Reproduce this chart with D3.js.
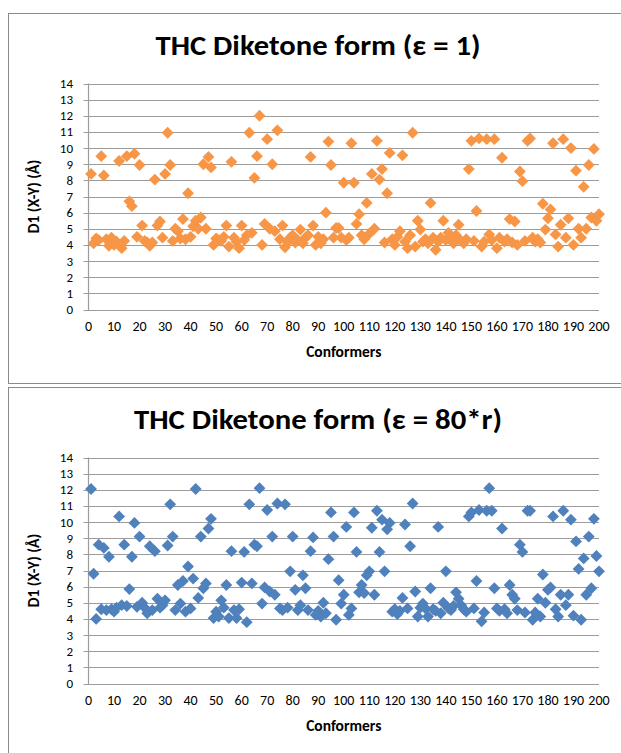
<!DOCTYPE html>
<html>
<head>
<meta charset="utf-8">
<script src="https://cdn.jsdelivr.net/npm/d3@7"></script>
<style>
  html, body { margin: 0; padding: 0; background: #fff; }
  svg { display: block; }
  text { font-family: Carlito, Calibri, Lato, "Open Sans", sans-serif; fill: #000; }
</style>
</head>
<body>
<svg id="chart" width="621" height="753"></svg>
<script>
// Conformer index 1..200 for both runs
const conformers = d3.range(1, 201);

// D1 (X-Y) distance in Å per conformer, dielectric constant ε = 1
const d1Eps1 = [
  8.4, 4.1, 4.4, 4.3, 9.5, 8.3, 4.35, 3.95, 4.45, 4.0,
  4.2, 9.2, 3.8, 4.25, 9.5, 6.7, 6.4, 9.65, 4.5, 8.95,
  5.2, 4.25, 4.15, 3.95, 4.15, 8.05, 5.2, 5.45, 4.45, 8.4,
  10.95, 8.95, 4.25, 5.0, 4.85, 4.4, 5.6, 4.35, 7.2, 4.5,
  5.15, 5.5, 5.0, 5.7, 9.0, 5.0, 9.45, 8.8, 4.0, 4.4,
  4.3, 4.25, 4.5, 5.2, 3.9, 9.15, 4.45, 4.2, 3.8, 5.2,
  4.3, 4.6, 10.95, 4.75, 8.15, 9.5, 12.0, 4.0, 5.3, 10.55,
  5.0, 9.0, 4.85, 11.1, 4.35, 5.2, 3.85, 4.2, 4.45, 4.6,
  4.15, 4.3, 4.95, 4.1, 4.45, 4.6, 9.45, 5.2, 4.0, 4.5,
  4.1, 4.35, 6.0, 10.4, 8.95, 4.45, 5.05, 5.05, 4.45, 7.85,
  4.3, 4.45, 10.3, 7.85, 5.3, 5.9, 4.6, 4.35, 6.6, 4.7,
  8.4, 5.0, 10.45, 8.05, 8.7, 4.15, 7.2, 9.7, 4.35, 4.0,
  4.5, 4.85, 9.55, 4.2, 3.8, 4.6, 10.95, 3.9, 5.5, 4.95,
  4.2, 4.35, 4.1, 6.6, 4.45, 3.7, 4.2, 4.45, 5.5, 4.3,
  4.75, 4.35, 4.1, 4.6, 5.25, 4.25, 4.1, 4.35, 8.7, 10.45,
  4.25, 6.1, 10.6, 3.9, 4.2, 10.55, 4.65, 4.3, 10.55, 3.8,
  4.45, 9.4, 4.2, 4.35, 5.6, 4.15, 5.45, 4.0, 8.55, 7.95,
  4.25, 10.45, 10.6, 4.45, 4.2, 4.35, 4.15, 6.55, 4.95, 5.65,
  6.2, 10.3, 4.65, 3.9, 5.25, 10.55, 4.45, 5.65, 10.0, 4.0,
  8.6, 5.0, 4.45, 7.6, 5.0, 8.95, 5.7, 9.95, 5.5, 5.9
];

// D1 (X-Y) distance in Å per conformer, distance-dependent dielectric ε = 80*r
const d1Eps80r = [
  12.05, 6.8, 4.0, 8.6, 4.6, 8.4, 4.55, 7.85, 4.6, 4.45,
  4.7, 10.35, 4.85, 8.6, 4.8, 5.85, 7.85, 9.95, 4.75, 9.1,
  5.0, 4.7, 4.35, 8.5, 4.55, 8.2, 5.25, 4.7, 4.85, 5.15,
  8.55, 11.1, 9.1, 4.55, 6.1, 4.95, 6.35, 4.45, 7.25, 4.65,
  6.5, 12.05, 5.3, 9.1, 5.9, 6.2, 9.6, 10.2, 4.05, 4.45,
  4.15, 5.15, 4.7, 6.1, 4.05, 8.2, 4.55, 4.05, 4.6, 6.25,
  8.15, 3.8, 11.1, 6.2, 8.6, 8.5, 12.1, 4.95, 5.95, 10.75,
  5.7, 9.1, 5.5, 11.15, 4.65, 4.55, 11.1, 4.7, 6.95, 9.1,
  5.8, 4.55, 4.85, 6.7, 5.9, 4.55, 8.2, 9.05, 4.25, 4.5,
  4.15, 5.0, 4.35, 7.7, 10.6, 9.1, 3.95, 6.4, 4.95, 5.5,
  9.7, 4.25, 4.65, 10.6, 8.15, 5.65, 6.1, 5.6, 6.7, 6.95,
  9.65, 5.5, 10.7, 8.15, 10.15, 6.95, 9.55, 9.95, 4.45, 4.6,
  4.3, 4.5, 5.3, 9.85, 4.65, 8.5, 11.15, 5.7, 4.15, 4.7,
  4.95, 4.65, 4.15, 5.9, 4.6, 4.5, 9.7, 4.35, 5.0, 6.95,
  4.65, 4.55, 4.8, 5.65, 5.25, 4.85, 4.6, 4.45, 10.35, 10.6,
  4.65, 6.35, 10.75, 3.85, 4.4, 10.7, 12.1, 10.7, 5.9, 4.65,
  4.5, 9.6, 4.6, 4.35, 6.1, 5.5, 5.25, 4.55, 8.6, 8.15,
  4.4, 10.7, 10.7, 3.95, 4.4, 5.25, 4.15, 6.75, 5.0, 5.8,
  5.95, 10.35, 4.6, 4.15, 5.5, 10.7, 4.85, 5.5, 10.15, 4.2,
  8.8, 7.1, 3.95, 7.75, 5.5, 9.1, 5.9, 10.2, 7.9, 6.95
];

// Axis tick values
const xTicks = d3.range(0, 201, 10);
const yTicks = d3.range(0, 15, 1);

const svg = d3.select("#chart");

function drawPanel(top, title, titleWidth, values, color) {
  const g = svg.append("g").attr("transform", `translate(0,${top})`);

  // chart area frame
  g.append("rect")
    .attr("x", 8.5).attr("y", 0.5)
    .attr("width", 630).attr("height", 370)
    .attr("fill", "#fff")
    .attr("stroke", "#8a8a8a").attr("stroke-width", 1);

  const x = d3.scaleLinear().domain([0, 200]).range([88.5, 599]);
  const y = d3.scaleLinear().domain([0, 14]).range([296.5, 70.5]);

  // title
  g.append("text")
    .attr("x", 318).attr("y", 42)
    .attr("text-anchor", "middle")
    .attr("font-size", 29).attr("font-weight", "bold")
    .attr("textLength", titleWidth).attr("lengthAdjust", "spacingAndGlyphs")
    .text(title);

  // horizontal gridlines with short ticks to the left of the axis
  g.append("g").selectAll("line").data(yTicks).join("line")
    .attr("x1", x(0) - 5).attr("x2", x(200))
    .attr("y1", d => Math.round(y(d)) + 0.5).attr("y2", d => Math.round(y(d)) + 0.5)
    .attr("stroke", "#9c9c9c").attr("stroke-width", 1.2);

  // vertical axis line
  g.append("line")
    .attr("x1", x(0)).attr("x2", x(0))
    .attr("y1", y(14)).attr("y2", y(0) + 0.5)
    .attr("stroke", "#9c9c9c").attr("stroke-width", 1.2);

  // y tick labels
  g.append("g").selectAll("text").data(yTicks).join("text")
    .attr("x", 73).attr("y", d => y(d))
    .attr("dy", "0.35em")
    .attr("text-anchor", "end")
    .attr("font-size", 13)
    .text(d => d);

  // x tick labels
  g.append("g").selectAll("text").data(xTicks).join("text")
    .attr("x", d => x(d)).attr("y", y(0) + 17)
    .attr("dy", "0.35em")
    .attr("text-anchor", "middle")
    .attr("font-size", 14)
    .text(d => d);

  // axis titles
  g.append("text")
    .attr("x", x(100)).attr("y", 339)
    .attr("dy", "0.35em")
    .attr("text-anchor", "middle")
    .attr("font-size", 15.5).attr("font-weight", "bold")
    .text("Conformers");

  g.append("text")
    .attr("transform", `translate(34,${(y(0) + y(14)) / 2}) rotate(-90)`)
    .attr("dy", "0.35em")
    .attr("text-anchor", "middle")
    .attr("font-size", 15.5).attr("font-weight", "bold")
    .text("D1 (X-Y) (Å)");

  // diamond markers
  const diamond = d3.symbol().type(d3.symbolSquare).size(70);
  g.append("g").selectAll("path").data(conformers).join("path")
    .attr("d", diamond)
    .attr("transform", (c, i) => `translate(${x(c)},${y(values[i])}) rotate(45)`)
    .attr("fill", color);
}

drawPanel(13, "THC Diketone form (ε = 1)", 325, d1Eps1, "#F79646");
drawPanel(387, "THC Diketone form (ε = 80*r)", 368, d1Eps80r, "#4F81BD");
</script>
</body>
</html>
